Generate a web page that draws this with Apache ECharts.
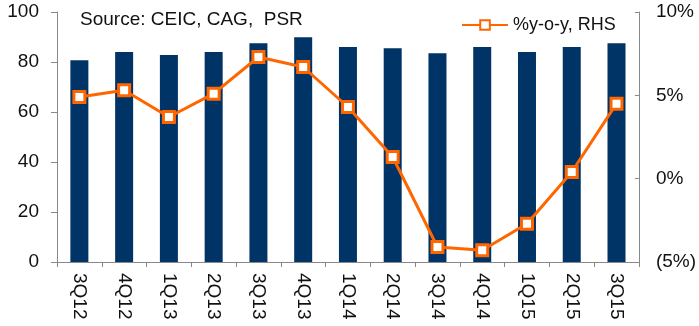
<!DOCTYPE html>
<html>
<head>
<meta charset="utf-8">
<script src="https://cdn.jsdelivr.net/npm/echarts@6/dist/echarts.min.js"></script>
<style>
html,body{margin:0;padding:0;background:#fff;}
#chart{width:699px;height:326px;}
</style>
</head>
<body>
<div id="chart"></div>
<script>
const categories = ['3Q12','4Q12','1Q13','2Q13','3Q13','4Q13','1Q14','2Q14','3Q14','4Q14','1Q15','2Q15','3Q15'];
const barValues = [80.7, 84, 82.8, 84, 87.5, 89.9, 86, 85.5, 83.5, 86, 84, 86, 87.5];
const yoyValues = [4.9, 5.3, 3.7, 5.1, 7.3, 6.7, 4.3, 1.3, -4.1, -4.3, -2.7, 0.4, 4.5];
const leftTicks = {min: 0, max: 100, interval: 20};
const rightTicks = {min: -5, max: 10, interval: 5};

const FONT = 'Liberation Sans, Arial, sans-serif';
const chart = echarts.init(document.getElementById('chart'), null, {renderer: 'canvas'});
chart.setOption({
  animation: false,
  backgroundColor: '#ffffff',
  title: {
    text: 'Source: CEIC, CAG,  PSR',
    left: 75, top: 5,
    textStyle: {fontFamily: FONT, fontSize: 19, fontWeight: 'normal', color: '#111'}
  },
  legend: {
    data: ['%y-o-y, RHS'],
    left: 456, top: 11,
    itemWidth: 46, itemHeight: 12, itemGap: 4,
    textStyle: {fontFamily: FONT, fontSize: 18, color: '#111'}
  },
  grid: {left: 57, right: 59, top: 12, bottom: 64, containLabel: false},
  xAxis: {
    type: 'category',
    data: categories,
    boundaryGap: true,
    axisLine: {show: true, lineStyle: {color: '#888', width: 1}},
    axisTick: {show: true, length: 5, lineStyle: {color: '#888'}},
    axisLabel: {rotate: -90, margin: 11, fontFamily: FONT, fontSize: 19, color: '#111'},
    splitLine: {show: false}
  },
  yAxis: [
    {
      type: 'value', position: 'left',
      min: leftTicks.min, max: leftTicks.max, interval: leftTicks.interval,
      axisLine: {show: true, lineStyle: {color: '#888'}},
      axisTick: {show: true, length: 6, lineStyle: {color: '#888'}},
      axisLabel: {margin: 18, fontFamily: FONT, fontSize: 19, color: '#111'},
      splitLine: {show: false}
    },
    {
      type: 'value', position: 'right',
      min: rightTicks.min, max: rightTicks.max, interval: rightTicks.interval,
      axisLine: {show: true, lineStyle: {color: '#888'}},
      axisTick: {show: true, inside: true, length: 4, lineStyle: {color: '#888'}},
      axisLabel: {
        margin: 17, fontFamily: FONT, fontSize: 19, color: '#111',
        formatter: v => v < 0 ? '(' + (-v) + '%)' : v + '%'
      },
      splitLine: {show: false}
    }
  ],
  series: [
    {
      name: 'Index',
      type: 'bar',
      yAxisIndex: 0,
      data: barValues,
      barWidth: 18,
      itemStyle: {color: '#003366'}
    },
    {
      name: '%y-o-y, RHS',
      type: 'line',
      yAxisIndex: 1,
      data: yoyValues,
      symbol: 'rect',
      symbolSize: 11,
      lineStyle: {color: '#FF6600', width: 3},
      itemStyle: {color: '#ffffff', borderColor: '#FF6600', borderWidth: 3}
    }
  ]
});
</script>
</body>
</html>
